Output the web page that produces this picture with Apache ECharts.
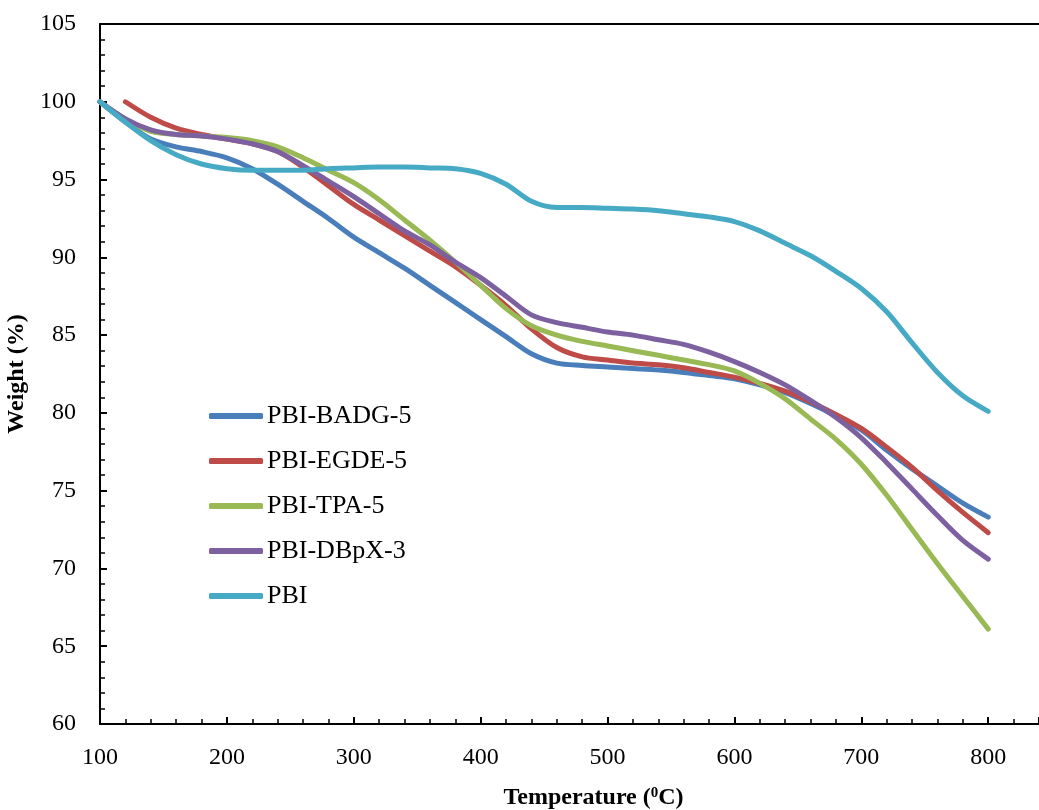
<!DOCTYPE html>
<html>
<head>
<meta charset="utf-8">
<script src="https://cdn.jsdelivr.net/npm/echarts@6/dist/echarts.min.js"></script>
<style>
  html, body { margin: 0; padding: 0; background: #fff; }
  #chart { width: 1039px; height: 810px; }
</style>
</head>
<body>
<div id="chart"></div>
<script>
// temperatures (°C) shared by every curve
const temps = [100, 120, 140, 160, 180, 200, 220, 240, 260, 280, 300, 320, 340, 360, 380, 400,
  420, 440, 460, 480, 500, 520, 540, 560, 580, 600, 620, 640, 660, 680, 700, 720, 740, 760, 780, 800];

const badg = [100, 98.7, 97.6, 97.1, 96.8, 96.4, 95.7, 94.7, 93.6, 92.5, 91.3, 90.3, 89.3, 88.2, 87.1, 86.0,
  84.9, 83.8, 83.2, 83.05, 82.95, 82.85, 82.75, 82.6, 82.4, 82.2, 81.8, 81.3, 80.6, 79.8, 78.9, 77.6, 76.4, 75.3, 74.2, 73.3];
const egde = [null, 100, 99.0, 98.3, 97.9, 97.6, 97.3, 96.8, 95.8, 94.6, 93.4, 92.4, 91.4, 90.4, 89.4, 88.2,
  86.9, 85.4, 84.2, 83.6, 83.4, 83.2, 83.1, 82.9, 82.6, 82.3, 81.9, 81.4, 80.7, 79.9, 79.0, 77.8, 76.5, 75.0, 73.6, 72.3];
const tpa = [100, 98.9, 98.1, 97.9, 97.8, 97.7, 97.5, 97.1, 96.4, 95.6, 94.8, 93.7, 92.4, 91.1, 89.7, 88.2,
  86.7, 85.6, 85.0, 84.6, 84.3, 84.0, 83.7, 83.4, 83.1, 82.7, 81.9, 80.9, 79.6, 78.3, 76.7, 74.7, 72.5, 70.3, 68.2, 66.1];
const dbpx = [100, 98.9, 98.2, 97.9, 97.8, 97.6, 97.3, 96.8, 95.9, 94.9, 93.9, 92.8, 91.7, 90.8, 89.7, 88.7,
  87.5, 86.3, 85.8, 85.5, 85.2, 85.0, 84.7, 84.4, 83.9, 83.3, 82.6, 81.8, 80.8, 79.7, 78.4, 76.8, 75.1, 73.4, 71.8, 70.6];
const pbi = [100, 98.7, 97.5, 96.6, 96.0, 95.7, 95.6, 95.6, 95.6, 95.7, 95.75, 95.8, 95.8, 95.75, 95.7, 95.4,
  94.7, 93.6, 93.2, 93.2, 93.15, 93.1, 93.0, 92.8, 92.6, 92.3, 91.7, 90.9, 90.1, 89.1, 88.0, 86.5, 84.5, 82.6, 81.1, 80.1];

const seriesNames = ['PBI-BADG-5', 'PBI-EGDE-5', 'PBI-TPA-5', 'PBI-DBpX-3', 'PBI'];
const seriesValues = [badg, egde, tpa, dbpx, pbi];
const seriesColors = ['#4A7EBB', '#BE4B48', '#98B954', '#7D60A0', '#46AAC5'];

const FONT = '"Liberation Serif", "Times New Roman", serif';

function pairs(values) {
  return temps.map((t, i) => [t, values[i]]).filter(p => p[1] != null);
}

const chart = echarts.init(document.getElementById('chart'));

const axisLine = { show: true, lineStyle: { color: '#000', width: 2 } };

chart.setOption({
  backgroundColor: '#fff',
  animation: false,
  grid: { left: 100, right: 0, top: 24, bottom: 86, outerBoundsMode: 'none' },
  legend: {
    orient: 'vertical',
    left: 204,
    top: 398,
    icon: 'roundRect',
    itemWidth: 54,
    itemHeight: 6,
    itemGap: 19,
    textStyle: { fontFamily: FONT, fontSize: 26, color: '#000', padding: [0, 0, 0, -1] },
    data: seriesNames
  },
  xAxis: [
    {
      type: 'value',
      min: 100,
      max: 840,
      interval: 100,
      name: '{b|Temperature (}{s|0}{b|C)}',
      nameLocation: 'middle',
      nameGap: 62,
      nameTextStyle: {
        padding: [0, 0, 0, 48],
        rich: {
          b: { fontFamily: FONT, fontSize: 24, fontWeight: 'bold', color: '#000' },
          s: { fontFamily: FONT, fontSize: 15, fontWeight: 'bold', color: '#000', padding: [0, 0, 9, 0] }
        }
      },
      axisLine: axisLine,
      axisTick: { show: true, inside: true, length: 7, lineStyle: { color: '#000', width: 2 } },
      minorTick: { show: true, splitNumber: 5, length: 5, lineStyle: { color: '#000', width: 1.5 } },
      axisLabel: { fontFamily: FONT, fontSize: 24, color: '#000', margin: 22, showMaxLabel: false },
      splitLine: { show: false }
    },
    {
      type: 'value',
      position: 'top',
      min: 100,
      max: 840,
      axisLine: axisLine,
      axisTick: { show: false },
      axisLabel: { show: false },
      splitLine: { show: false }
    }
  ],
  yAxis: {
    type: 'value',
    min: 60,
    max: 105,
    interval: 5,
    name: 'Weight (%)',
    nameLocation: 'middle',
    nameGap: 63,
    nameTextStyle: { fontFamily: FONT, fontSize: 24, fontWeight: 'bold', color: '#000' },
    axisLine: axisLine,
    axisTick: { show: true, inside: true, length: 7, lineStyle: { color: '#000', width: 2 } },
    minorTick: { show: true, splitNumber: 5, length: 5, lineStyle: { color: '#000', width: 1.5 } },
    axisLabel: { fontFamily: FONT, fontSize: 24, color: '#000', margin: 24 },
    splitLine: { show: false }
  },
  series: seriesNames.map((name, i) => ({
    name: name,
    type: 'line',
    xAxisIndex: 0,
    data: pairs(seriesValues[i]),
    smooth: 0.3,
    symbol: 'none',
    color: seriesColors[i],
    lineStyle: { width: 5, color: seriesColors[i], cap: 'round' }
  }))
});
</script>
</body>
</html>
